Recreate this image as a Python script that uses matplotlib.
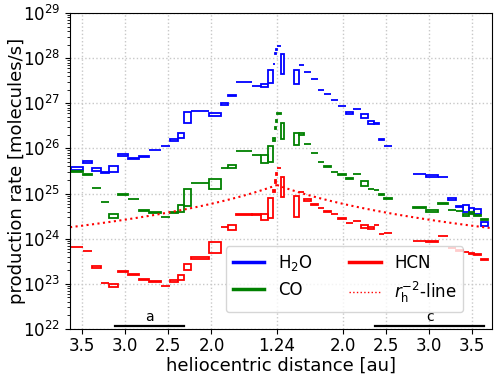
import numpy as np
import matplotlib
matplotlib.use("Agg")
import matplotlib.pyplot as plt
from matplotlib.lines import Line2D

r_peri = 1.24

# bin edges in heliocentric distance [au]
pre_edges = [3.630, 3.496, 3.386, 3.276, 3.183, 3.090, 2.969, 2.835, 2.719, 2.586,
             2.481, 2.388, 2.319, 2.243, 2.029, 1.890, 1.808, 1.721, 1.530, 1.426,
             1.339, 1.286, 1.263, 1.246, 1.240]
post_edges = [1.240, 1.281, 1.327, 1.437, 1.501, 1.559, 1.629, 1.710, 1.785, 1.866,
              1.953, 2.035, 2.116, 2.220, 2.301, 2.365, 2.418, 2.481, 2.574, 2.818,
              2.969, 3.102, 3.224, 3.311, 3.392, 3.462, 3.531, 3.612, 3.688]

nan = np.nan

# log10 production rate, lower / upper bound of each bin
h2o_pre_lo = [25.514, 25.669, 25.492, 25.447, 25.469, 25.824, 25.757, 25.801, 25.960, 26.045,
              26.156, 26.222, 26.555, 26.825, 26.710, 26.953, 27.153, 27.467, 27.378, 27.352,
              27.441, 27.866, 28.083, 28.172]
h2o_pre_hi = [25.598, 25.731, 25.576, 25.487, 25.620, 25.886, 25.797, 25.841, 25.970, 26.060,
              26.218, 26.351, 26.816, 26.835, 26.794, 27.015, 27.193, 27.477, 27.388, 27.436,
              27.746, 27.876, 28.123, 28.212]
h2o_post_lo = [28.264, 27.640, nan, 27.418, 27.843, 27.688, 27.533, 27.289, 27.201, 27.068,
               26.935, 26.754, 26.869, 26.666, 26.533, 26.548, 26.178, 26.050, nan, 25.430,
               25.359, 25.362, 24.849, 24.694, 24.583, 24.561, 24.539, 24.273]
h2o_post_hi = [28.274, 28.101, nan, 27.746, 27.853, 27.698, 27.543, 27.299, 27.211, 27.078,
               26.945, 26.816, 26.879, 26.772, 26.617, 26.558, 26.218, 26.060, nan, 25.440,
               25.421, 25.372, 24.911, 24.734, 24.756, 24.690, 24.667, 24.379]

co_pre_lo = [25.485, 25.403, 25.114, 24.808, 24.451, 24.959, 24.876, 24.606, 24.580, 24.470,
             24.561, 24.583, 24.716, 25.225, 25.093, 25.560, 25.558, 25.938, 25.850, 25.669,
             25.691, 26.156, 26.422, 26.577]
co_pre_hi = [25.495, 25.443, 25.124, 24.818, 24.557, 24.999, 24.886, 24.646, 24.590, 24.480,
             24.601, 24.756, 25.111, 25.235, 25.332, 25.570, 25.642, 25.948, 25.860, 25.864,
             26.063, 26.240, 26.484, 26.639]
co_post_lo = [26.769, 26.200, nan, 26.067, 26.289, 26.090, 25.890, 25.695, 25.580, 25.473,
              25.403, 25.314, 25.430, 25.159, 25.092, 25.070, 24.959, 24.871, nan, 24.690,
              24.583, 24.780, 24.630, 24.610, 24.495, 24.539, 24.495, 24.406]
co_post_hi = [26.779, 26.572, nan, 26.351, 26.351, 26.100, 25.900, 25.705, 25.620, 25.483,
              25.443, 25.354, 25.440, 25.288, 25.102, 25.080, 24.999, 24.911, nan, 24.700,
              24.646, 24.790, 24.640, 24.620, 24.557, 24.601, 24.535, 24.446]

hcn_pre_lo = [23.810, 23.725, 23.343, 23.010, 22.922, 23.254, 23.188, 23.094, 23.050, 22.950,
              23.033, 23.078, 23.299, 23.542, 23.676, 24.260, 24.185, 24.517, 24.517, 24.406,
              24.451, 25.026, 25.226, 25.403]
hcn_pre_hi = [23.820, 23.735, 23.405, 23.020, 23.006, 23.294, 23.228, 23.104, 23.060, 22.960,
              23.095, 23.206, 23.449, 23.604, 23.937, 24.270, 24.313, 24.557, 24.557, 24.557,
              24.911, 25.089, 25.310, 25.465]
hcn_post_lo = [25.560, 24.916, nan, 24.472, 25.027, 24.827, 24.750, 24.670, 24.583, 24.538,
               24.440, 24.339, 24.383, 24.229, 24.207, 24.297, 24.100, 24.120, nan, 23.945,
               23.919, 24.056, 23.790, 23.735, 23.700, 23.653, 23.631, 23.520]
hcn_post_hi = [25.570, 25.376, nan, 24.955, 25.037, 24.889, 24.760, 24.680, 24.623, 24.548,
               24.450, 24.349, 24.393, 24.313, 24.269, 24.307, 24.110, 24.130, nan, 23.955,
               23.959, 24.066, 23.800, 23.745, 23.710, 23.693, 23.671, 23.560]

# r_h^-2 reference line, value at perihelion
q_peri = 10 ** 25.19

tick_r = [3.5, 3.0, 2.5, 2.0, 1.24, 2.0, 2.5, 3.0, 3.5]
tick_side = [-1, -1, -1, -1, 0, 1, 1, 1, 1]
tick_text = ['3.5', '3.0', '2.5', '2.0', '1.24', '2.0', '2.5', '3.0', '3.5']

# coverage bars at the bottom: (label, side, r_start, r_end)
periods = [('a', -1, 3.12, 2.32), ('c', 1, 2.38, 3.64)]


def to_x(r, side):
    return side * (np.asarray(r, dtype=float) - r_peri)


def draw_boxes(ax, edges, side, lo, hi, color):
    x = to_x(edges, side)
    lo = 10 ** np.asarray(lo)
    hi = 10 ** np.asarray(hi)
    left = np.minimum(x[:-1], x[1:])
    width = np.abs(np.diff(x))
    ok = ~np.isnan(lo)
    ax.bar(left[ok], (hi - lo)[ok], width=width[ok], bottom=lo[ok], align='edge',
           fill=False, edgecolor=color, linewidth=1.3)


fig = plt.figure(figsize=(5, 3.8), dpi=100)
ax = fig.add_axes([0.14, 0.1342, 0.844, 0.8316])
ax.set_yscale('log')

draw_boxes(ax, pre_edges, -1, h2o_pre_lo, h2o_pre_hi, 'blue')
draw_boxes(ax, post_edges, 1, h2o_post_lo, h2o_post_hi, 'blue')
draw_boxes(ax, pre_edges, -1, co_pre_lo, co_pre_hi, 'green')
draw_boxes(ax, post_edges, 1, co_post_lo, co_post_hi, 'green')
draw_boxes(ax, pre_edges, -1, hcn_pre_lo, hcn_pre_hi, 'red')
draw_boxes(ax, post_edges, 1, hcn_post_lo, hcn_post_hi, 'red')

r_in = np.linspace(3.64, r_peri, 100)
r_out = np.linspace(r_peri, 3.74, 100)
ax.plot(to_x(r_in, -1), q_peri * (r_peri / r_in) ** 2, ':', color='red', lw=1.5)
ax.plot(to_x(r_out, 1), q_peri * (r_peri / r_out) ** 2, ':', color='red', lw=1.5)

for name, side, r0, r1 in periods:
    x0, x1 = to_x([r0, r1], side)
    ax.plot([x0, x1], [10 ** 22.07, 10 ** 22.07], color='black', lw=1.6)
    ax.text((x0 + x1) / 2, 10 ** 22.1, name, ha='center', va='bottom', fontsize=10)

ax.set_xlim(-2.401, 2.494)
ax.set_ylim(1e22, 1e29)
ax.set_xticks([s * (r - r_peri) for r, s in zip(tick_r, tick_side)])
ax.set_xticklabels(tick_text)
ax.tick_params(labelsize=12)
ax.tick_params(axis='x', pad=2.5)
ax.grid(True, which='major', linestyle=':', color='#c8c8c8', lw=1)
ax.set_axisbelow(True)

ax.set_xlabel('heliocentric distance [au]', fontsize=13, labelpad=1)
ax.set_ylabel('production rate [molecules/s]', fontsize=13)
ax.yaxis.set_label_coords(-0.104, 0.5)

handles = [Line2D([], [], color='blue', lw=2.5),
           Line2D([], [], color='green', lw=2.5),
           Line2D([], [], color='red', lw=2.5),
           Line2D([], [], color='red', lw=1, ls=':')]
labels = [r'H$_2$O', 'CO', 'HCN', r'$r_\mathrm{h}^{-2}$-line']
ax.legend(handles, labels, ncol=2, loc='lower left', bbox_to_anchor=(0.37, 0.054),
          borderaxespad=0, fontsize=12, handlelength=1.9, columnspacing=2.2)

fig.savefig('out.png', dpi=100)
